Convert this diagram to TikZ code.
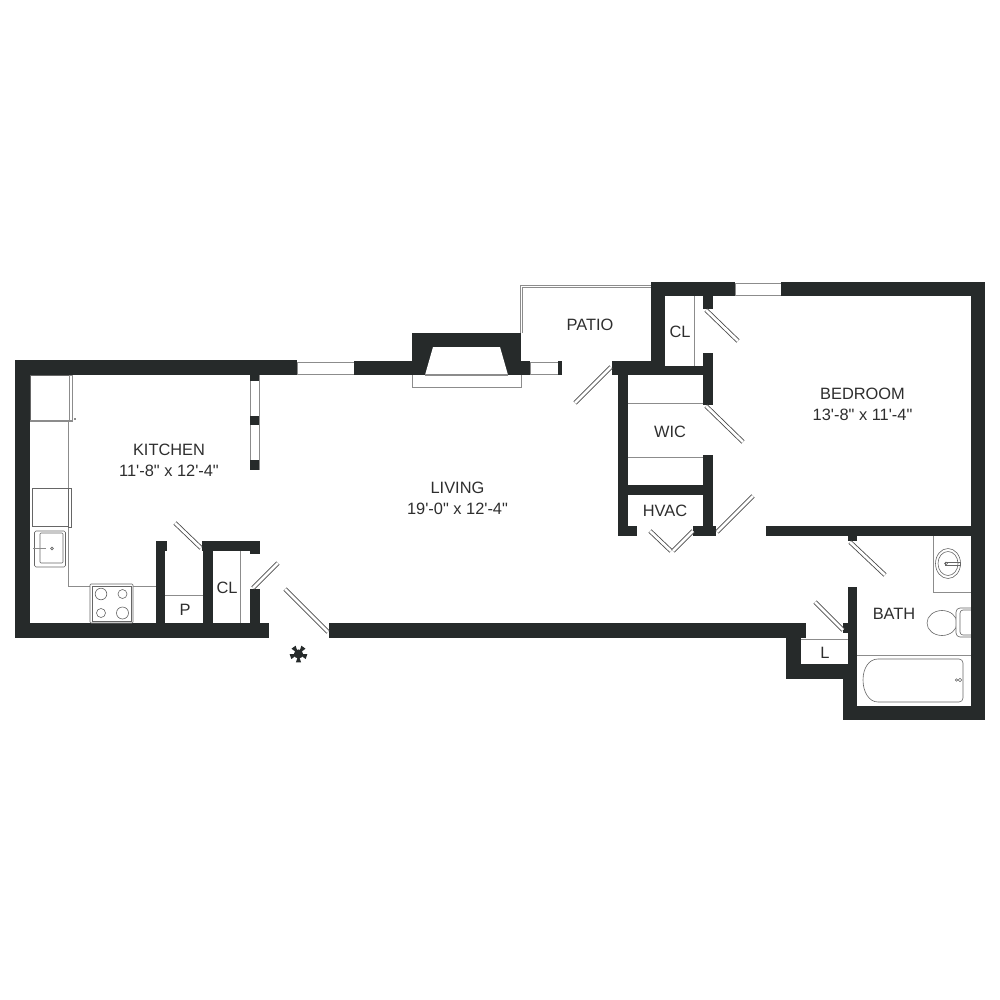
\documentclass[tikz,border=0pt]{standalone}
\usepackage{fontspec}
\newfontfamily\planfont{Liberation Sans}
\definecolor{wallcol}{HTML}{262A2A}
\definecolor{fixcol}{HTML}{8C8C8C}
\tikzset{
	wall/.style={fill=wallcol, draw=none},
	fixture/.style={draw=fixcol, line width=0.8pt},
	fixfine/.style={draw=black!60, line width=0.6pt},
	glass/.style={fill=white, draw=fixcol, line width=0.9pt},
	leaf/.style={draw=black!70, double=white, double distance=2.7pt, line width=0.85pt},
	room/.style={text=black!82, font=\planfont\fontsize{16.4}{20.5}\selectfont, align=center},
}
\begin{document}
\begin{tikzpicture}[x=1pt, y=-1pt]
			%%%%% START %%%%%
			\useasboundingbox (0, 0) rectangle (1000, 1000);
			
			% kitchen shell
			\fill[wall] (15, 360) rectangle (297, 375);
			\fill[wall] (15, 360) rectangle (30, 638);
			\fill[wall] (15, 623) rectangle (269, 638);
			
			% kitchen / living screen
			\draw[glass] (250, 375) rectangle (259, 469);
			\fill[wall] (250, 375) rectangle (259, 381);
			\fill[wall] (250, 416) rectangle (259, 425);
			\fill[wall] (250, 460) rectangle (259, 470);
			
			% pantry and closet
			\fill[wall] (156, 541) rectangle (167, 551);
			\fill[wall] (156, 541) rectangle (165, 623);
			\fill[wall] (203, 541) rectangle (213, 623);
			\fill[wall] (202, 541) rectangle (260, 551);
			\fill[wall] (250, 541) rectangle (260, 554);
			\fill[wall] (250, 589) rectangle (260, 623);
			\draw[fixture] (165, 595) -- (203, 595);
			\draw[fixture] (240.5, 551) -- (240.5, 623);
			
			% long south wall and laundry
			\fill[wall] (329, 623) rectangle (806, 638);
			\fill[wall] (786, 623) rectangle (801, 679);
			\fill[wall] (801, 623) rectangle (806, 633);
			\fill[wall] (786, 664) rectangle (857, 679);
			\fill[wall] (843, 623) rectangle (848, 633);
			\fill[wall] (848, 587) rectangle (857, 720);
			\fill[wall] (843, 664) rectangle (857, 720);
			\fill[wall] (843, 706) rectangle (985, 720);
			\draw[fixture] (801, 639) -- (848, 639);
			
			% north wall, windows, fireplace
			\draw[glass] (297, 362) rectangle (354, 374);
			\fill[wall] (354, 361) rectangle (530, 375);
			\fill[wall] (412, 333) rectangle (521, 361);
			\fill[white] (433, 347) -- (500, 347) -- (508, 375) -- (425, 375) -- cycle;
			\draw[fixture, line width=1.1pt] (425, 375) -- (508, 375);
			\draw[fixture] (412, 375) -- (412, 387) -- (521, 387) -- (521, 375);
			\draw[glass] (530, 362) rectangle (558, 374);
			\fill[wall] (558, 361) rectangle (562, 375);
			
			% patio rail
			\draw[fixture] (520.5, 333) -- (520.5, 285.5) -- (651, 285.5);
			\draw[fixture] (522.5, 333) -- (522.5, 287.5) -- (651, 287.5);
			
			% bedroom shell
			\fill[wall] (651, 282) rectangle (735, 296);
			\draw[glass] (735, 283) rectangle (782, 295);
			\fill[wall] (781, 282) rectangle (985, 296);
			\fill[wall] (971, 282) rectangle (985, 720);
			\fill[wall] (766, 526) rectangle (971, 536);
			\fill[wall] (848, 536) rectangle (857, 541);
			
			% core closets
			\fill[wall] (651, 282) rectangle (665, 375);
			\fill[wall] (612, 361) rectangle (651, 375);
			\fill[wall] (651, 366) rectangle (713, 375);
			\fill[wall] (703, 296) rectangle (713, 309);
			\fill[wall] (703, 353) rectangle (713, 405);
			\fill[wall] (703, 455) rectangle (713, 536);
			\fill[wall] (618, 375) rectangle (628, 536);
			\fill[wall] (628, 485) rectangle (703, 495);
			\fill[wall] (618, 526) rectangle (637, 536);
			\fill[wall] (693, 526) rectangle (716, 536);
			\draw[fixture] (694, 296) -- (694, 366);
			\draw[fixture] (628, 403) -- (703, 403);
			\draw[fixture] (628, 457) -- (703, 457);
			
			% doors
			\draw[leaf] (175, 523) -- (201, 548);
			\draw[leaf] (253, 588) -- (278, 563);
			\draw[leaf] (285, 589) -- (328, 632);
			\draw[leaf] (611, 367) -- (575, 403);
			\draw[leaf] (706, 310) -- (738, 341);
			\draw[leaf] (706, 406) -- (743, 442);
			\draw[leaf] (717, 532) -- (753, 496);
			\draw[leaf] (650, 531) -- (671, 551);
			\draw[leaf] (673, 551) -- (693, 531);
			\draw[leaf] (850, 542) -- (885, 575);
			\draw[leaf] (815, 602) -- (843, 630);
			
			% kitchen fixtures
			\draw[fixture] (68, 421) -- (68, 586) -- (156, 586);
			\draw[fixfine, fill=white] (30, 375.5) rectangle (69.5, 421);
			\draw[fixture, fill=white] (69.5, 375) rectangle (72.5, 421);
			\draw[fixture, line width=1.3pt] (30, 421) -- (72, 421);
			\fill[fixcol] (73.5, 418) rectangle (76, 420);
			\draw[fixfine, fill=white] (32, 488) rectangle (68, 526);
			\draw[fixfine, fill=white] (68, 488) rectangle (71.5, 527);
			\draw[fixfine, fill=white, rounded corners=1.5pt] (34.5, 531) rectangle (65.5, 567);
			\draw[fixfine, fill=white, rounded corners=1pt] (40, 533) rectangle (63, 563);
			\draw[fixture, line width=1.6pt] (33, 548.5) -- (46, 548.5);
			\draw[fixfine] (52, 548.5) circle (1.4);
			\draw[fixfine, fill=white, rounded corners=1pt] (90, 584) rectangle (133, 623);
			\draw[fixfine, fill=white] (92, 586) rectangle (131, 621);
			\draw[fixfine] (101, 594) circle (5.8);
			\draw[fixfine] (122.5, 594) circle (4.5);
			\draw[fixfine] (101, 613) circle (4.5);
			\draw[fixfine] (122.5, 613) circle (6);
			
			% bath fixtures
			\draw[fixture] (933, 536) -- (933, 592) -- (971, 592);
			\draw[fixfine] (948, 563.5) ellipse (12.5 and 15);
			\draw[fixfine] (948, 563.5) ellipse (10 and 12);
			\draw[fixfine] (945, 562.5) rectangle (960, 565);
			\draw[fixfine] (946, 563.5) circle (1.5);
			\draw[fixfine, fill=white] (942, 623) ellipse (15 and 12.5);
			\draw[fixfine, fill=white, rounded corners=4pt] (956, 608) rectangle (976, 637);
			\draw[fixfine, rounded corners=3pt] (960, 610) rectangle (976, 635);
			\fill[wall] (971, 600) rectangle (985, 645);
			\draw[fixture] (857, 655) -- (971, 655);
			\draw[fixfine, rounded corners=4pt] (878, 659) -- (963, 659) -- (963, 702) -- (878, 702);
			\draw[fixfine] (878, 659) .. controls (869, 659) and (863, 668) .. (863, 680) .. controls (863, 692) and (869, 702) .. (878, 702);
			\draw[fixfine] (960, 680) circle (1.8);
			\draw[fixfine] (956.5, 680) circle (1.2);
			
			% entry mark
			\begin{scope}[shift={(298.5, 654)}]
				\fill[wallcol] (0, 0) circle (4.6);
				\foreach \spoke in {18, 90, 162, 234, 306} {
					\fill[wallcol] (\spoke-14:2) -- (\spoke-17:8.8) -- (\spoke+17:8.8) -- (\spoke+14:2) -- cycle;
				}
			\end{scope}
			
			% labels
			\node[room] (kitchen) at (169, 460.5) {KITCHEN\\11'-8" x 12'-4"};
			\node[room] (living) at (457.5, 498.5) {LIVING\\19'-0" x 12'-4"};
			\node[room] (patio) at (590, 324.7) {PATIO};
			\node[room] (bedroom) at (862.5, 404.5) {BEDROOM\\13'-8" x 11'-4"};
			\node[room] (clbed) at (680, 331.5) {CL};
			\node[room] (wic) at (670, 431.7) {WIC};
			\node[room] (hvac) at (665, 510.5) {HVAC};
			\node[room] (bath) at (894, 613.7) {BATH};
			\node[room] (laundry) at (825, 652.5) {L};
			\node[room] (pantry) at (185, 609.5) {P};
			\node[room] (clkit) at (227, 587.5) {CL};
			
			%%%%% END %%%%%
		\end{tikzpicture}
\end{document}
